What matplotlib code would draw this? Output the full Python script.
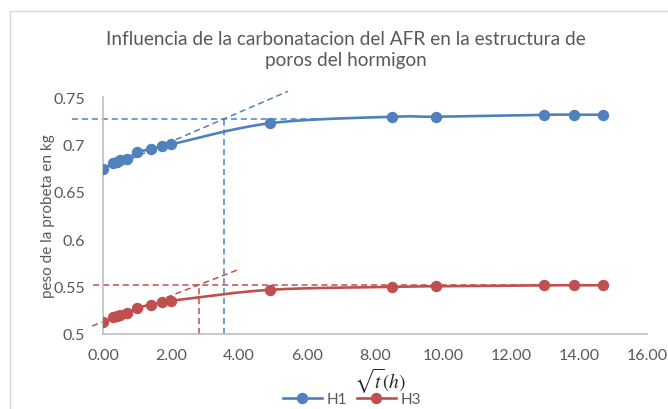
import numpy as np
import matplotlib
matplotlib.use("Agg")
import matplotlib.pyplot as plt
from matplotlib.patches import Rectangle
from matplotlib.lines import Line2D

# sqrt of elapsed time (h^0.5)
sqrt_t = [0.0, 0.29, 0.41, 0.50, 0.71, 1.00, 1.41, 1.73, 2.00, 4.90, 8.49, 9.80, 12.96, 13.86, 14.70]
# specimen weight (kg)
h1 = [0.674, 0.680, 0.6818, 0.6833, 0.6846, 0.6917, 0.695, 0.698, 0.700, 0.7223, 0.7292, 0.7292, 0.7313, 0.7313, 0.7313]
h3 = [0.5123, 0.5176, 0.5186, 0.520, 0.5218, 0.5274, 0.5309, 0.5333, 0.535, 0.5466, 0.5497, 0.5504, 0.5514, 0.5514, 0.5514]

# tangent / plateau construction lines
h1_plateau = 0.7268
h1_plateau_x = [-0.9, 7.0]
h1_tangent_x = [0.0, 5.44]
h1_tangent_y = [0.672, 0.756]
h1_cross_x = 3.56
h3_plateau = 0.5517
h3_plateau_x = [-0.3, 14.8]
h3_tangent_x = [-0.32, 4.03]
h3_tangent_y = [0.5084, 0.5686]
h3_cross_x = 2.82

series_names = ["H1", "H3"]
blue = "#4F81BD"
red = "#C0504D"
txt = "#595959"

plt.rcParams["font.family"] = ["Lato", "DejaVu Sans"]
plt.rcParams["mathtext.fontset"] = "stix"

W, H = 668, 410
fig = plt.figure(figsize=(W / 100, H / 100), dpi=100)
fig.patches.append(Rectangle((10 / W, -0.1), 1.2, 1 - 12 / H + 0.1, transform=fig.transFigure,
                             fill=False, edgecolor="#D9D9D9", linewidth=1.0))

ax = fig.add_axes([103 / W, 1 - 335 / H, (647 - 103) / W, (335 - 98) / H])
ax.set_xlim(0, 16)
ax.set_ylim(0.5, 0.75)


def smooth(xs, ys, n=30, tension=0.5):
    """Cardinal spline through the points, computed in axis-normalised space."""
    x = np.asarray(xs, float) / 16.0
    y = (np.asarray(ys, float) - 0.5) / 0.25 * (237 / 544)
    p = np.column_stack([x, y])
    p = np.vstack([p[0], p, p[-1]])
    out = []
    for i in range(1, len(p) - 2):
        p0, p1, p2, p3 = p[i - 1], p[i], p[i + 1], p[i + 2]
        m1 = tension * (p2 - p0)
        m2 = tension * (p3 - p1)
        t = np.linspace(0, 1, n)[:, None]
        h00 = 2 * t**3 - 3 * t**2 + 1
        h10 = t**3 - 2 * t**2 + t
        h01 = -2 * t**3 + 3 * t**2
        h11 = t**3 - t**2
        out.append(h00 * p1 + h10 * m1 + h01 * p2 + h11 * m2)
    c = np.vstack(out)
    return c[:, 0] * 16.0, c[:, 1] / (237 / 544) * 0.25 + 0.5


for vals, col in [(h1, blue), (h3, red)]:
    sx, sy = smooth(sqrt_t, vals)
    ax.plot(sx, sy, color=col, lw=1.9, solid_capstyle="round", zorder=3)
    ax.plot(sqrt_t, vals, "o", color=col, ms=7.2, zorder=4)

dash = dict(lw=1.1, dashes=(4, 2.5), clip_on=False, zorder=2)
ax.plot(h1_plateau_x, [h1_plateau, h1_plateau], color=blue, **dash)
ax.plot(h1_tangent_x, h1_tangent_y, color=blue, **dash)
ax.plot([h1_cross_x, h1_cross_x], [0.5, h1_plateau], color=blue, **dash)
ax.plot(h3_plateau_x, [h3_plateau, h3_plateau], color=red, **dash)
ax.plot(h3_tangent_x, h3_tangent_y, color=red, **dash)
ax.plot([h3_cross_x, h3_cross_x], [0.5, h3_plateau], color=red, **dash)

for s in ["top", "right"]:
    ax.spines[s].set_visible(False)
for s in ["left", "bottom"]:
    ax.spines[s].set_color("#BFBFBF")
    ax.spines[s].set_linewidth(1.2)

ax.set_xticks(np.arange(0, 17, 2))
ax.set_xticklabels([f"{v:.2f}" for v in np.arange(0, 17, 2)])
ax.set_yticks([0.5, 0.55, 0.6, 0.65, 0.7, 0.75])
ax.set_yticklabels(["0.5", "0.55", "0.6", "0.65", "0.7", "0.75"])
ax.tick_params(length=0, colors=txt, labelsize=11.5)
ax.tick_params(axis="x", pad=10)
ax.tick_params(axis="y", pad=13)

fig.text(48 / W, 1 - 216 / H, "peso de la probeta en kg", rotation=90, ha="center", va="center",
         color=txt, fontsize=11)
fig.text(380 / W, 1 - 381 / H, r"$\sqrt{t}(h)$", ha="center", va="center", color="#262626", fontsize=14)
fig.text(346 / W, 1 - 50 / H, "Influencia de la carbonatacion del AFR en la estructura de\nporos del hormigon",
         ha="center", va="center", color=txt, fontsize=13.7, linespacing=1.25)

handles = [Line2D([], [], color=blue, lw=1.9, marker="o", ms=7.2),
           Line2D([], [], color=red, lw=1.9, marker="o", ms=7.2)]
fig.legend(handles, series_names, loc="center", bbox_to_anchor=(352 / W, 1 - 400 / H), ncol=2,
           frameon=False, fontsize=11, labelcolor=txt, handlelength=2.6, columnspacing=0.6,
           handletextpad=0.3, borderaxespad=0)

fig.savefig("out.png", dpi=100)
